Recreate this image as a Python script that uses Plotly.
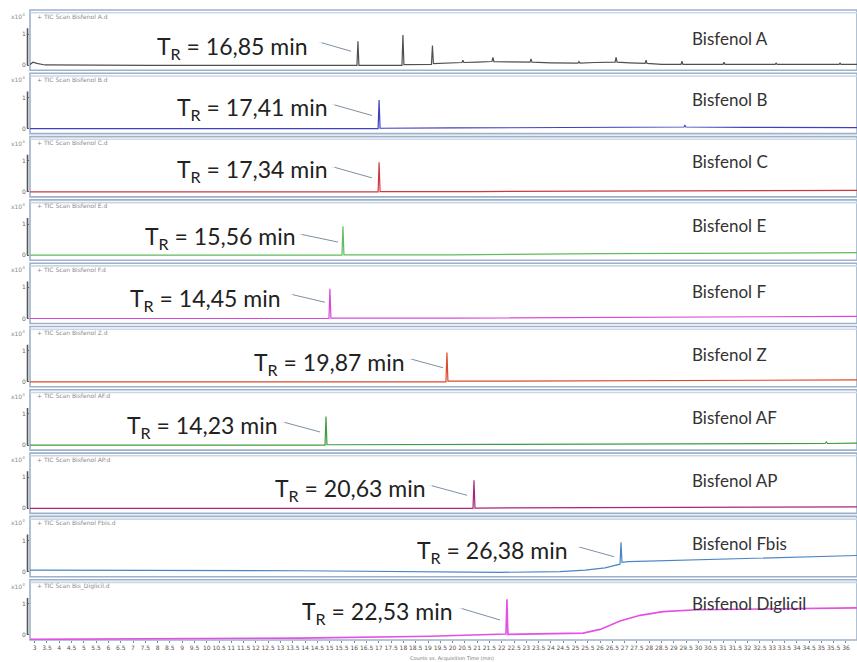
import plotly.graph_objects as go
from plotly.subplots import make_subplots

# ---------------- data ----------------
compounds = ["Bisfenol A", "Bisfenol B", "Bisfenol C", "Bisfenol E", "Bisfenol F",
             "Bisfenol Z", "Bisfenol AF", "Bisfenol AP", "Bisfenol Fbis", "Bisfenol Diglicil"]
files = ["+ TIC Scan Bisfenol A.d", "+ TIC Scan Bisfenol B.d", "+ TIC Scan Bisfenol C.d",
         "+ TIC Scan Bisfenol E.d", "+ TIC Scan Bisfenol F.d", "+ TIC Scan Bisfenol Z.d",
         "+ TIC Scan Bisfenol AF.d", "+ TIC Scan Bisfenol AP.d", "+ TIC Scan Bisfenol Fbis.d",
         "+ TIC Scan Bis_Diglicil.d"]
tr_labels = ["16,85", "17,41", "17,34", "15,56", "14,45", "19,87", "14,23", "20,63", "26,38", "22,53"]
colors = ["#505050", "#4040c0", "#cc3a40", "#62bb5e", "#d848d8",
          "#dc4a2c", "#3e9c3e", "#a8267f", "#4a86c6", "#e450e4"]

t_bpa = [2.81, 2.93, 3.09, 3.42, 7.69, 13.79, 16.11, 16.15, 16.19, 17.0, 17.94, 17.98, 18.02,
         19.14, 19.18, 19.22, 19.6, 20.0, 20.38, 20.42, 20.46, 21.0, 21.6, 21.64, 21.68, 22.3,
         23.15, 23.19, 23.23, 24.0, 25.1, 25.14, 25.18, 25.8, 26.61, 26.65, 26.69, 27.2,
         27.83, 27.87, 27.91, 28.5, 29.29, 29.33, 29.37, 30.2, 31.0, 31.04, 31.08,
         33.12, 33.16, 33.2, 35.72, 35.76, 35.8, 36.45]
y_bpa = [0.02, 0.10, 0.06, 0.01, 0.0, 0.0, 0.0, 0.77, 0.0, 0.0, 0.0, 0.97, 0.02,
         0.03, 0.63, 0.05, 0.06, 0.08, 0.09, 0.16, 0.09, 0.10, 0.12, 0.25, 0.12, 0.11,
         0.10, 0.20, 0.10, 0.08, 0.07, 0.12, 0.07, 0.09, 0.10, 0.25, 0.10, 0.08,
         0.06, 0.16, 0.06, 0.03, 0.03, 0.13, 0.03, 0.03, 0.03, 0.10, 0.03,
         0.03, 0.07, 0.03, 0.03, 0.07, 0.03, 0.03]

t_bpb = [2.81, 10.0, 16.97, 17.01, 17.05, 20.0, 24.0, 28.0, 29.41, 29.45, 29.49, 32.0, 36.45]
y_bpb = [0.0, 0.0, 0.0, 0.92, 0.01, 0.02, 0.04, 0.05, 0.05, 0.10, 0.05, 0.04, 0.03]

t_bpc = [2.81, 10.0, 16.97, 17.01, 17.05, 21.0, 30.0, 36.45]
y_bpc = [0.0, 0.0, 0.0, 0.95, 0.01, 0.01, 0.04, 0.05]

t_bpe = [2.81, 10.0, 15.50, 15.54, 15.58, 19.9, 26.0, 36.45]
y_bpe = [0.0, 0.0, 0.0, 0.93, 0.01, 0.01, 0.05, 0.08]

t_bpf = [2.81, 10.0, 14.97, 15.01, 15.05, 19.9, 26.0, 36.45]
y_bpf = [0.0, 0.0, 0.0, 0.95, 0.01, 0.01, 0.04, 0.07]

t_bpz = [2.81, 12.0, 19.73, 19.77, 19.81, 22.0, 36.45]
y_bpz = [0.0, 0.0, 0.0, 0.94, 0.02, 0.02, 0.06]

t_bpaf = [2.81, 10.0, 14.81, 14.85, 14.89, 22.0, 34.7, 35.15, 35.2, 35.25, 36.45]
y_bpaf = [0.0, 0.0, 0.0, 0.92, 0.01, 0.02, 0.05, 0.05, 0.10, 0.05, 0.06]

t_bpap = [2.81, 12.0, 20.83, 20.87, 20.91, 36.45]
y_bpap = [0.0, 0.0, 0.0, 0.90, 0.01, 0.05]

t_fbis = [2.81, 13.79, 21.93, 24.37, 25.39, 26.2, 26.61, 26.81, 26.85, 26.89, 27.15, 28.44, 31.41, 36.45]
y_fbis = [0.05, 0.03, -0.02, 0.0, 0.05, 0.12, 0.20, 0.24, 0.94, 0.30, 0.32, 0.35, 0.42, 0.52]

t_dig = [2.81, 9.72, 13.79, 19.08, 21.93, 22.17, 22.21, 22.25, 25.31, 26.0, 26.81, 27.63, 28.56, 29.95, 36.45]
y_dig = [-0.14, -0.12, -0.10, -0.04, 0.02, 0.03, 1.15, 0.02, 0.06, 0.18, 0.45, 0.63, 0.75, 0.81, 0.87]

series_t = [t_bpa, t_bpb, t_bpc, t_bpe, t_bpf, t_bpz, t_bpaf, t_bpap, t_fbis, t_dig]
series_y = [y_bpa, y_bpb, y_bpc, y_bpe, y_bpf, y_bpz, y_bpaf, y_bpap, y_fbis, y_dig]

# annotation placement: text right end (min), text y, arrow head (min, y), tail offset px
label_x = [14.20, 15.01, 15.01, 13.71, 13.10, 18.15, 12.98, 19.00, 24.78, 20.10]
label_y = [0.58, 0.65, 0.68, 0.58, 0.61, 0.58, 0.61, 0.61, 0.65, 0.71]
head_x = [15.87, 16.72, 16.72, 15.34, 14.81, 19.61, 14.61, 20.59, 26.57, 21.93]
head_y = [0.45, 0.42, 0.45, 0.42, 0.52, 0.45, 0.42, 0.42, 0.48, 0.48]
tail_dx = [-31, -39, -39, -38, -34, -33, -37, -37, -36, -40]
tail_dy = [-9, -11, -11, -8, -8, -9, -10, -10, -10, -12]
name_y = [0.87, 0.94, 0.97, 0.94, 0.87, 0.87, 0.87, 0.90, 0.90, 1.00]
name_x = 29.66

x_range = [2.81, 36.45]
y_range = [-0.161, 1.774]

# ---------------- figure ----------------
n = len(compounds)
fig = make_subplots(rows=n, cols=1, shared_xaxes=True, vertical_spacing=3 / 630)

frame_col = "#9db2ca"
header_col = "#c9d7e6"
for i in range(n):
    r = i + 1
    sfx = "" if r == 1 else str(r)
    fig.add_trace(go.Scatter(x=series_t[i], y=series_y[i], mode="lines",
                             line=dict(color=colors[i], width=1.6 if i == 9 else 1.2),
                             showlegend=False, hoverinfo="skip"), row=r, col=1)
    # panel frame
    fig.add_shape(type="rect", xref=f"x{sfx} domain", yref=f"y{sfx} domain",
                  x0=0, x1=1, y0=0, y1=1, line=dict(color=frame_col, width=1.6), layer="below")
    fig.add_shape(type="line", xref=f"x{sfx} domain", yref=f"y{sfx} domain",
                  x0=0, x1=1, y0=0.955, y1=0.955, line=dict(color=header_col, width=1.6), layer="below")
    # y axis line
    fig.add_shape(type="line", xref=f"x{sfx} domain", yref=f"y{sfx}",
                  x0=-0.003, x1=-0.003, y0=0, y1=1.19, line=dict(color="#555555", width=1.6))
    # retention time label + arrow
    fig.add_annotation(xref=f"x{sfx}", yref=f"y{sfx}", x=label_x[i], y=label_y[i],
                       xanchor="right", yanchor="middle", showarrow=False,
                       text=f"T<sub>R</sub> = {tr_labels[i]} min",
                       font=dict(family="Lato", size=23, color="#222222"))
    fig.add_annotation(xref=f"x{sfx}", yref=f"y{sfx}", x=head_x[i], y=head_y[i],
                       text="·", font=dict(size=6, color="#7f8fa0"), showarrow=True, arrowhead=0,
                       arrowwidth=1, arrowcolor="#7f8fa0", ax=tail_dx[i], ay=tail_dy[i],
                       axref="pixel", ayref="pixel", borderpad=0)
    # compound name
    fig.add_annotation(xref=f"x{sfx}", yref=f"y{sfx}", x=name_x, y=name_y[i],
                       xanchor="left", yanchor="middle", showarrow=False,
                       text=compounds[i], font=dict(family="Lato", size=17, color="#333333"))
    # tiny file title and exponent
    fig.add_annotation(xref=f"x{sfx} domain", yref=f"y{sfx} domain", x=0.006, y=0.90,
                       xanchor="left", yanchor="middle", showarrow=False, text=files[i],
                       font=dict(family="DejaVu Sans", size=6, color="#8a8a8a"))
    fig.add_annotation(xref="paper", yref=f"y{sfx} domain", x=-0.004, y=0.90,
                       xanchor="right", yanchor="middle", showarrow=False, text="x10<sup>4</sup>",
                       font=dict(family="DejaVu Sans", size=6, color="#8a8a8a"))
    fig.update_yaxes(row=r, col=1, range=y_range, tickvals=[0, 1], ticktext=["0", "1"],
                     ticks="outside", ticklen=2, tickcolor="#666666", automargin=False,
                     tickfont=dict(family="DejaVu Sans", size=6, color="#666666"),
                     showgrid=False, zeroline=False, showline=False, fixedrange=True)
    fig.update_xaxes(row=r, col=1, range=x_range, showgrid=False, zeroline=False,
                     showline=False, dtick=0.5, tick0=3, ticks="", fixedrange=True,
                     automargin=False)

fig.update_xaxes(row=n, col=1, showticklabels=True, ticks="outside", ticklen=2,
                 tickcolor="#7a8a9a", tickangle=0,
                 tickfont=dict(family="DejaVu Sans", size=6, color="#555555"))
fig.add_annotation(xref="paper", yref="paper", x=0.51, y=-0.029, yanchor="middle",
                   showarrow=False, text="Counts vs. Acquisition Time (min)",
                   font=dict(family="DejaVu Sans", size=5, color="#777777"))

fig.update_layout(width=857, height=662, margin=dict(l=30, r=0, t=10, b=22),
                  paper_bgcolor="white", plot_bgcolor="white", showlegend=False)

fig.write_html("out.html", config={"displayModeBar": False},
               post_script="document.body.style.margin='0px';")
